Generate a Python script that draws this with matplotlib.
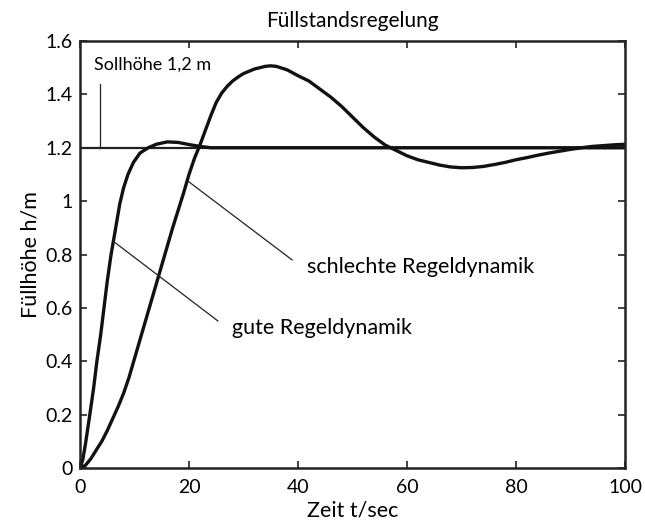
import matplotlib
matplotlib.use("Agg")
import matplotlib.pyplot as plt

plt.rcParams["font.family"] = ["Lato", "DejaVu Sans"]

# gute Regeldynamik (schnelle Kurve)
T_GUT = [0, 0.5, 1, 1.8, 2.5, 3.1, 3.8, 4.4, 5, 5.7, 6.3, 7.3, 8, 8.8, 9.8,
         11, 12.5, 14, 16, 18, 20, 22, 24, 26, 30, 40, 60, 80, 100]
H_GUT = [0, 0.03, 0.09, 0.2, 0.3, 0.4, 0.5, 0.6, 0.7, 0.8, 0.87, 0.99, 1.05,
         1.1, 1.145, 1.18, 1.2, 1.213, 1.222, 1.22, 1.212, 1.205, 1.2, 1.2,
         1.2, 1.2, 1.2, 1.2, 1.2]

# schlechte Regeldynamik (langsame Kurve)
T_SCHLECHT = [0, 1, 2, 3, 4, 5, 6, 7, 8, 9, 10, 11, 12, 13, 14, 15, 16, 17,
              18, 19, 20, 21, 22, 23, 24, 25, 26, 27, 28, 29, 30, 32, 34, 35,
              36, 38, 40, 42, 44, 46, 48, 50, 52, 54, 56, 57, 58, 60, 62, 64,
              66, 68, 70, 72, 74, 76, 78, 80, 82, 84, 86, 88, 90, 92, 94, 96,
              98, 100]
H_SCHLECHT = [0, 0.01, 0.035, 0.068, 0.1, 0.14, 0.185, 0.23, 0.28, 0.34,
              0.41, 0.48, 0.55, 0.62, 0.69, 0.76, 0.83, 0.9, 0.965, 1.03,
              1.1, 1.16, 1.21, 1.265, 1.32, 1.37, 1.405, 1.43, 1.45, 1.465,
              1.478, 1.495, 1.505, 1.507, 1.505, 1.492, 1.47, 1.45, 1.42,
              1.39, 1.355, 1.315, 1.275, 1.24, 1.21, 1.2, 1.19, 1.17, 1.155,
              1.145, 1.135, 1.128, 1.125, 1.126, 1.13, 1.137, 1.145, 1.155,
              1.163, 1.172, 1.18, 1.187, 1.194, 1.2, 1.205, 1.208, 1.211,
              1.213]

SOLLHOEHE = 1.2
X_TICKS = [0, 20, 40, 60, 80, 100]
Y_TICKS = [0, 0.2, 0.4, 0.6, 0.8, 1.0, 1.2, 1.4, 1.6]
Y_TICK_LABELS = ["0", "0.2", "0.4", "0.6", "0.8", "1", "1.2", "1.4", "1.6"]

fig = plt.figure(figsize=(6.45, 5.31), dpi=100)
ax = fig.add_axes([80 / 645, 63 / 531, 545 / 645, 427 / 531])

ax.axhline(SOLLHOEHE, color="#222222", linewidth=1.6)
ax.plot(T_GUT, H_GUT, color="#111111", linewidth=2.4)
ax.plot(T_SCHLECHT, H_SCHLECHT, color="#111111", linewidth=2.4)

# Beschriftungen
ax.plot([3.67, 3.67], [SOLLHOEHE, 1.44], color="#222222", linewidth=0.9)
ax.text(2.6, 1.51, "Sollhöhe 1,2 m", fontsize=13, va="center", ha="left")

ax.plot([19.8, 38.9], [1.075, 0.78], color="#222222", linewidth=0.9)
ax.text(41.6, 0.753, "schlechte Regeldynamik", fontsize=15.5, va="center",
        ha="left")

ax.plot([6.4, 25.3], [0.845, 0.551], color="#222222", linewidth=0.9)
ax.text(27.8, 0.525, "gute Regeldynamik", fontsize=15.5, va="center",
        ha="left")

ax.set_xlim(0, 100)
ax.set_ylim(0, 1.6)
ax.set_xticks(X_TICKS)
ax.set_yticks(Y_TICKS)
ax.set_yticklabels(Y_TICK_LABELS)
ax.tick_params(direction="in", top=True, right=True, labelsize=14, length=5,
               width=1.2, color="#222222")
ax.tick_params(axis="x", pad=8)
ax.tick_params(axis="y", pad=5)
for sp in ax.spines.values():
    sp.set_linewidth(1.8)
    sp.set_color("#222222")

ax.set_title("Füllstandsregelung", fontsize=15, pad=10)
ax.set_xlabel("Zeit t/sec", fontsize=15.5, labelpad=3)
ax.set_ylabel("Füllhöhe h/m", fontsize=15.5, labelpad=4)

fig.savefig("out.png", dpi=100)
